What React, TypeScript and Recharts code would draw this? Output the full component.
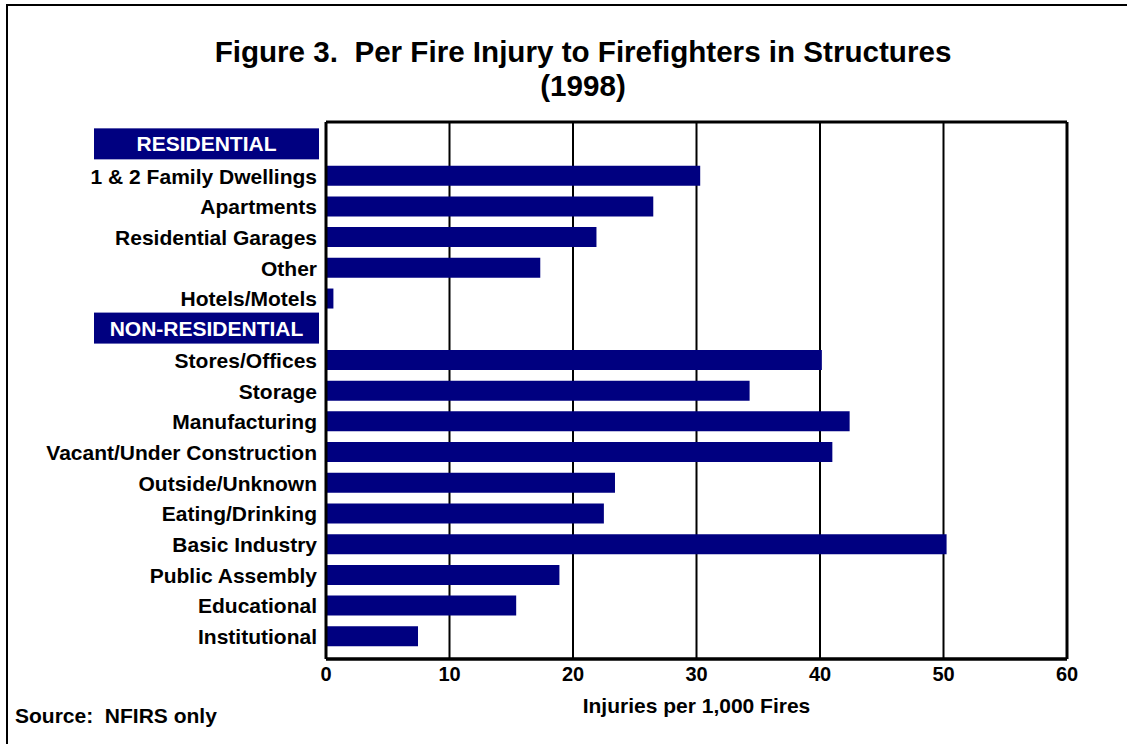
import React from 'react';
import {
  Bar,
  BarChart,
  CartesianGrid,
  ReferenceLine,
  XAxis,
  YAxis,
} from 'recharts';

// Row labels, top to bottom (header rows carry no bar)
const categories = [
  'RESIDENTIAL',
  '1 & 2 Family Dwellings',
  'Apartments',
  'Residential Garages',
  'Other',
  'Hotels/Motels',
  'NON-RESIDENTIAL',
  'Stores/Offices',
  'Storage',
  'Manufacturing',
  'Vacant/Under Construction',
  'Outside/Unknown',
  'Eating/Drinking',
  'Basic Industry',
  'Public Assembly',
  'Educational',
  'Institutional',
];

const headerRows = ['RESIDENTIAL', 'NON-RESIDENTIAL'];

// Injuries per 1,000 fires (null for header rows)
const injuries: (number | null)[] = [
  null, 30.3, 26.5, 21.9, 17.35, 0.6,
  null, 40.15, 34.3, 42.4, 41.0, 23.4, 22.5, 50.25, 18.9, 15.4, 7.45,
];

const xTicks = [0, 10, 20, 30, 40, 50, 60];

const NAVY = '#000080';
const FONT = '"Liberation Sans", Arial, sans-serif';

const data = categories.map((name, i) => ({
  name,
  value: injuries[i],
  header: headerRows.includes(name),
}));

// Category tick: plain bold label, or a navy box for the section headers
const CategoryTick = (props: any) => {
  const { x, y, payload } = props;
  const label: string = payload.value;
  if (headerRows.includes(label)) {
    const left = x - 223;
    const w = 225;
    return (
      <g>
        <rect x={left} y={y - 17} width={w} height={31} fill={NAVY} />
        <text
          x={left + w / 2}
          y={y - 1.5}
          textAnchor="middle"
          dominantBaseline="central"
          fill="#ffffff"
          fontFamily={FONT}
          fontWeight="bold"
          fontSize={21}
        >
          {label}
        </text>
      </g>
    );
  }
  return (
    <text
      x={x}
      y={y}
      textAnchor="end"
      dominantBaseline="central"
      fill="#000000"
      fontFamily={FONT}
      fontWeight="bold"
      fontSize={21}
    >
      {label}
    </text>
  );
};

export default function App() {
  return (
    <div
      style={{
        position: 'absolute',
        left: 0,
        top: 0,
        width: 1127,
        height: 744,
        background: '#ffffff',
        fontFamily: FONT,
        overflow: 'hidden',
      }}
    >
      {/* page frame */}
      <div
        style={{
          position: 'absolute',
          left: 6,
          top: 4,
          right: -10,
          bottom: -10,
          borderTop: '2px solid #000',
          borderLeft: '2px solid #000',
        }}
      />
      <div
        style={{
          position: 'absolute',
          left: 0,
          width: 1166,
          top: 35,
          textAlign: 'center',
          fontWeight: 'bold',
          fontSize: 29.6,
          lineHeight: '34px',
          color: '#000',
          whiteSpace: 'pre',
        }}
      >
        {'Figure 3.  Per Fire Injury to Firefighters in Structures\n(1998)'}
      </div>
      <div
        style={{
          position: 'absolute',
          left: 15,
          top: 704,
          fontWeight: 'bold',
          fontSize: 21,
          color: '#000',
          whiteSpace: 'pre',
        }}
      >
        {'Source:  NFIRS only'}
      </div>
      <div style={{ position: 'absolute', left: 0, top: 0 }}>
        <BarChart
          width={1127}
          height={744}
          data={data}
          layout="vertical"
          margin={{ top: 122, right: 60, bottom: 55, left: 0 }}
        >
          <CartesianGrid
            horizontal={false}
            stroke="#000000"
            strokeWidth={2}
            strokeOpacity={1}
          />
          <CartesianGrid
            vertical={false}
            stroke="#000000"
            strokeWidth={3}
            horizontalCoordinatesGenerator={({ offset }: any) => [
              offset.top,
              offset.top + offset.height,
            ]}
          />
          <ReferenceLine x={60} stroke="#000000" strokeWidth={3} />
          <XAxis
            type="number"
            domain={[0, 60]}
            ticks={xTicks}
            interval={0}
            tickLine={false}
            tickSize={0}
            tickMargin={8}
            axisLine={{ stroke: '#000000', strokeWidth: 3 }}
            tick={{ fill: '#000000', fontSize: 20, fontWeight: 'bold', fontFamily: FONT }}
            height={30}
            label={{
              value: 'Injuries per 1,000 Fires',
              position: 'bottom',
              offset: 9,
              fill: '#000000',
              fontSize: 21,
              fontWeight: 'bold',
              fontFamily: FONT,
            }}
          />
          <YAxis
            type="category"
            dataKey="name"
            width={326}
            interval={0}
            tickLine={false}
            tickSize={0}
            tickMargin={9}
            padding={{ top: 8, bottom: 7 }}
            axisLine={{ stroke: '#000000', strokeWidth: 3 }}
            tick={<CategoryTick />}
          />
          <Bar dataKey="value" fill={NAVY} barSize={20} isAnimationActive={false} />
        </BarChart>
      </div>
    </div>
  );
}
